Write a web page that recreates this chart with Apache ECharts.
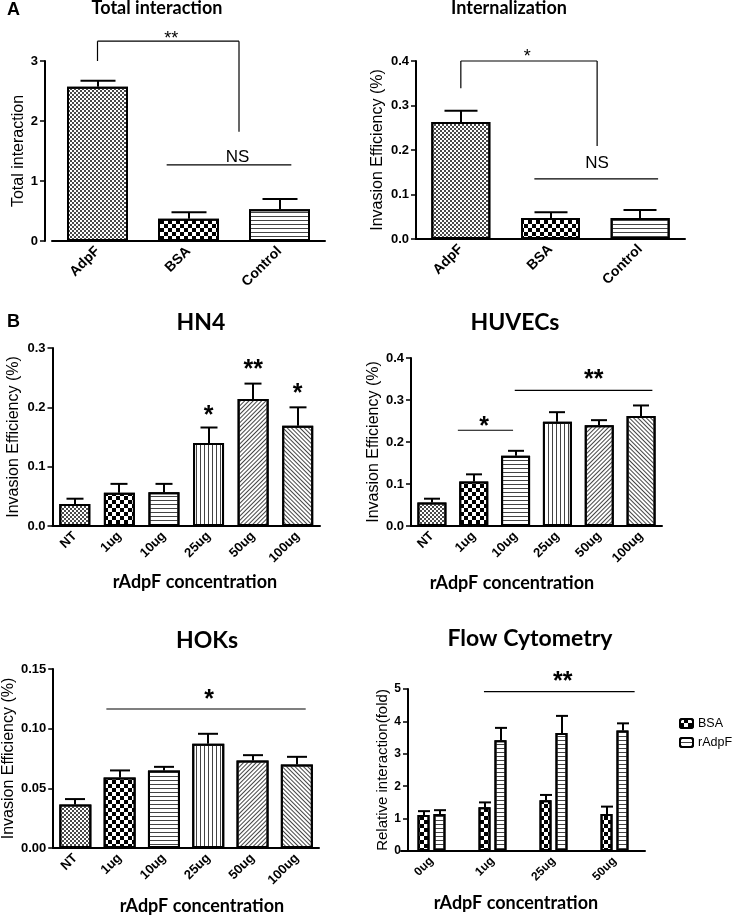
<!DOCTYPE html>
<html><head><meta charset="utf-8">
<script src="https://cdn.jsdelivr.net/npm/echarts@6/dist/echarts.min.js"></script>
<style>html,body{margin:0;padding:0;background:#fff}#c{width:733px;height:918px}</style>
</head><body><div id="c"></div>
<script>
// ---------------- DATA ----------------
const catsA = ['AdpF', 'BSA', 'Control'];
const totalVals = [2.57, 0.37, 0.53];
const totalErr = [0.10, 0.11, 0.17];
const internVals = [0.263, 0.047, 0.047];
const internErr = [0.025, 0.013, 0.018];

const concCats = ['NT', '1ug', '10ug', '25ug', '50ug', '100ug'];
const hn4Vals = [0.037, 0.056, 0.057, 0.140, 0.214, 0.169];
const hn4Err = [0.009, 0.015, 0.014, 0.026, 0.026, 0.031];
const huvecVals = [0.056, 0.106, 0.167, 0.248, 0.240, 0.262];
const huvecErr = [0.009, 0.017, 0.012, 0.023, 0.012, 0.025];
const hokVals = [0.0364, 0.059, 0.065, 0.0873, 0.0734, 0.070];
const hokErr = [0.0046, 0.006, 0.003, 0.0084, 0.0044, 0.0064];

const flowCats = ['0ug', '1ug', '25ug', '50ug'];
const flowBSA = [1.11, 1.35, 1.57, 1.14];
const flowBSAErr = [0.12, 0.15, 0.16, 0.23];
const flowRAdpF = [1.14, 3.42, 3.64, 3.72];
const flowRAdpFErr = [0.12, 0.38, 0.53, 0.22];

// significance annotations: segments [x1, y1, x2, y2] (x in category units), texts [label, x, y]
const sigSegA1 = [[0, 3.0, 0, 3.33], [0, 3.33, 1.555, 3.33], [1.555, 3.33, 1.555, 1.82], [0.76, 1.27, 2.13, 1.27]];
const sigTxtA1 = [['**', 0.81, 3.43], ['NS', 1.54, 1.39]];
const sigSegA2 = [[0, 0.339, 0, 0.4], [0, 0.4, 1.52, 0.4], [1.52, 0.4, 1.52, 0.209], [0.82, 0.135, 2.2, 0.135]];
const sigTxtA2 = [['*', 0.74, 0.416], ['NS', 1.52, 0.170]];
const sigSegHN4 = [];
const sigTxtHN4 = [['*', 3, 0.193], ['**', 4, 0.272], ['*', 5, 0.230]];
const sigSegHUV = [[0.62, 0.228, 1.94, 0.228], [1.98, 0.323, 5.27, 0.323]];
const sigTxtHUV = [['*', 1.25, 0.247], ['**', 3.87, 0.359]];
const sigSegHOK = [[0.70, 0.1165, 5.2, 0.1165]];
const sigTxtHOK = [['*', 3.02, 0.128]];
const sigSegFLOW = [[0.86, 4.92, 3.33, 4.92]];
const sigTxtFLOW = [['**', 2.15, 5.37]];

// ---------------- STYLE ----------------
const DEC = {
  fine: {symbol: 'rect', symbolSize: 1, dashArrayX: [[2, 2], [0, 2, 2, 0]], dashArrayY: [2, 0], color: '#4a4a4a'},
  checker: {symbol: 'rect', symbolSize: 1, dashArrayX: [[4, 4], [0, 4, 4, 0]], dashArrayY: [4, 0], color: '#000'},
  hline: {symbol: 'rect', symbolSize: 1, dashArrayX: [1, 0], dashArrayY: [1, 3], color: '#444'},
  vline: {symbol: 'rect', symbolSize: 1, dashArrayX: [1, 3], dashArrayY: [1, 0], color: '#444'},
  diagR: {symbol: 'rect', symbolSize: 1, dashArrayX: [1, 0], dashArrayY: [1, 2], rotation: -Math.PI / 4, color: '#444'},
  diagL: {symbol: 'rect', symbolSize: 1, dashArrayX: [1, 0], dashArrayY: [1, 2], rotation: Math.PI / 4, color: '#444'}
};
const patA = ['fine', 'checker', 'hline'];
const patB = ['fine', 'checker', 'hline', 'vline', 'diagR', 'diagL'];

const panels = [
  {grid: {left: 52, top: 61, width: 273, height: 180}, cats: catsA, max: 3, interval: 1, dec: 0,
   yName: 'Total interaction', nameGap: 11, yOffset: 7, barWidth: 61, cap: 35, xFont: 14, yFont: 13,
   series: [{name: 'Total', vals: totalVals, err: totalErr, pats: patA, shift: 0}],
   segs: sigSegA1, txts: sigTxtA1, starFont: 18, starWeight: 'normal'},
  {grid: {left: 416, top: 61, width: 269, height: 178}, cats: catsA, max: 0.4, interval: 0.1, dec: 1,
   yName: 'Invasion Efficiency (%)', nameGap: 30, yOffset: 0, barWidth: 59, cap: 33, xFont: 14, yFont: 13,
   series: [{name: 'Intern', vals: internVals, err: internErr, pats: patA, shift: 0}],
   segs: sigSegA2, txts: sigTxtA2, starFont: 18, starWeight: 'normal'},
  {grid: {left: 52.5, top: 348, width: 267.5, height: 178}, cats: concCats, max: 0.3, interval: 0.1, dec: 1,
   yName: 'Invasion Efficiency (%)', nameGap: 31, yOffset: 0, barWidth: 31, cap: 17, xFont: 13, yFont: 13,
   series: [{name: 'HN4', vals: hn4Vals, err: hn4Err, pats: patB, shift: 0}],
   segs: sigSegHN4, txts: sigTxtHN4, starFont: 25, starWeight: 'bold'},
  {grid: {left: 411, top: 358, width: 251, height: 168}, cats: concCats, max: 0.4, interval: 0.1, dec: 1,
   yName: 'Invasion Efficiency (%)', nameGap: 25, yOffset: 0, barWidth: 29, cap: 16, xFont: 13, yFont: 13,
   series: [{name: 'HUVEC', vals: huvecVals, err: huvecErr, pats: patB, shift: 0}],
   segs: sigSegHUV, txts: sigTxtHUV, starFont: 25, starWeight: 'bold'},
  {grid: {left: 52.5, top: 669, width: 266.5, height: 179}, cats: concCats, max: 0.15, interval: 0.05, dec: 2,
   yName: 'Invasion Efficiency (%)', nameGap: 34, yOffset: 0, barWidth: 32, cap: 20, xFont: 13, yFont: 13,
   series: [{name: 'HOK', vals: hokVals, err: hokErr, pats: patB, shift: 0}],
   segs: sigSegHOK, txts: sigTxtHOK, starFont: 25, starWeight: 'bold'},
  {grid: {left: 401, top: 689, width: 244, height: 162}, cats: flowCats, max: 5, interval: 1, dec: 0,
   yName: 'Relative interaction(fold)', nameGap: 16, yOffset: -7, barWidth: 12, cap: 12, xFont: 12, yFont: 12, yNameFont: 15,
   series: [{name: 'BSA', vals: flowBSA, err: flowBSAErr, pats: ['checker', 'checker', 'checker', 'checker'], shift: -8},
            {name: 'rAdpF', vals: flowRAdpF, err: flowRAdpFErr, pats: ['hline', 'hline', 'hline', 'hline'], shift: 8}],
   segs: sigSegFLOW, txts: sigTxtFLOW, starFont: 25, starWeight: 'bold'}
];

const BOLD = 'Liberation Sans';
const grids = [], xAxes = [], yAxes = [], series = [];

panels.forEach((p, gi) => {
  grids.push(Object.assign({containLabel: false}, p.grid));
  xAxes.push({
    type: 'category', gridIndex: gi, data: p.cats,
    axisLine: {lineStyle: {color: '#000', width: 2}},
    axisTick: {alignWithLabel: true, length: 6, lineStyle: {color: '#000', width: 1.5}},
    axisLabel: {rotate: 45, margin: 8, color: '#000', fontFamily: BOLD, fontWeight: 'bold', fontSize: p.xFont},
    splitLine: {show: false}
  });
  yAxes.push({
    type: 'value', gridIndex: gi, min: 0, max: p.max, interval: p.interval, offset: p.yOffset,
    name: p.yName, nameLocation: 'middle', nameRotate: 90, nameGap: p.nameGap,
    nameTextStyle: {fontFamily: 'Liberation Sans', fontSize: p.yNameFont || 16, color: '#000', padding: 0},
    axisLine: {show: true, lineStyle: {color: '#000', width: 2}},
    axisTick: {show: true, length: 5, lineStyle: {color: '#000', width: 1.5}},
    axisLabel: {color: '#000', fontFamily: BOLD, fontWeight: 'bold', fontSize: p.yFont, margin: 7,
      formatter: v => v.toFixed(p.dec)},
    splitLine: {show: false}
  });
  p.series.forEach(s => {
    series.push({
      type: 'bar', name: s.name, xAxisIndex: gi, yAxisIndex: gi, barWidth: p.barWidth, barGap: '33%',
      itemStyle: {color: '#fff', borderColor: '#000', borderWidth: 2, decal: DEC[s.pats[0]]},
      data: s.vals.map((v, i) => ({value: v, itemStyle: {color: '#fff', borderColor: '#000', borderWidth: 2, decal: DEC[s.pats[i]]}})),
      z: 2, animation: false
    });
  });
  p.series.forEach(s => {
    const cap = p.cap, shift = s.shift;
    series.push({
      type: 'custom', xAxisIndex: gi, yAxisIndex: gi, z: 3, animation: false, silent: true,
      data: s.vals.map((v, i) => [i, v, s.err[i]]),
      encode: {x: 0, y: 1},
      renderItem: (params, api) => {
        const x = api.value(0), v = api.value(1), e = api.value(2);
        const p0 = api.coord([x, v]), p1 = api.coord([x, v + e]);
        const cx = Math.round(p0[0] + shift);
        return {type: 'group', children: [
          {type: 'line', shape: {x1: cx, y1: p0[1], x2: cx, y2: p1[1]}, style: {stroke: '#000', lineWidth: 2}},
          {type: 'line', shape: {x1: cx - cap / 2, y1: p1[1], x2: cx + cap / 2, y2: p1[1]}, style: {stroke: '#000', lineWidth: 2}}
        ]};
      }
    });
  });
  // significance lines
  series.push({
    type: 'custom', xAxisIndex: gi, yAxisIndex: gi, z: 4, animation: false, silent: true,
    data: p.segs.map(s => [0, 0, s[0], s[1], s[2], s[3]]),
    encode: {x: 0, y: 1},
    renderItem: (params, api) => {
      const c0 = api.coord([0, 0]);
      const bw = api.size([1, 0])[0];
      const x1 = c0[0] + api.value(2) * bw, x2 = c0[0] + api.value(4) * bw;
      const y1 = api.coord([0, api.value(3)])[1], y2 = api.coord([0, api.value(5)])[1];
      return {type: 'line', shape: {x1: x1, y1: y1, x2: x2, y2: y2}, style: {stroke: '#000', lineWidth: 1.2}};
    }
  });
  const txts = p.txts;
  series.push({
    type: 'custom', xAxisIndex: gi, yAxisIndex: gi, z: 4, animation: false, silent: true,
    data: txts.map(t => [0, 0, t[1], t[2]]),
    encode: {x: 0, y: 1},
    renderItem: (params, api) => {
      const c0 = api.coord([0, 0]);
      const bw = api.size([1, 0])[0];
      const label = txts[params.dataIndex][0];
      const isStar = label.indexOf('*') >= 0;
      const fs = isStar ? p.starFont : 17;
      const x = c0[0] + api.value(2) * bw;
      const y = api.coord([0, api.value(3)])[1] + (isStar ? 0.2 * fs : 0);
      return {type: 'text', x: x, y: y, style: {text: label, fill: '#000', align: 'center', verticalAlign: 'middle',
        font: (isStar ? p.starWeight : 'normal') + ' ' + fs + 'px "Liberation Sans"'}};
    }
  });
});

function txt(text, x, y, size, family, weight) {
  return {type: 'text', x: x, y: y, style: {text: text, fill: '#000', align: 'center', verticalAlign: 'top',
    font: (weight || 'bold') + ' ' + size + 'px ' + family}};
}
const graphics = [
  {type: 'text', x: 7, y: 1, style: {text: 'A', fill: '#000', font: 'bold 18px "Liberation Sans"'}},
  {type: 'text', x: 7, y: 313, style: {text: 'B', fill: '#000', font: 'bold 18px "Liberation Sans"'}},
  txt('Total interaction', 157, -1, 18, 'Lato'),
  txt('Internalization', 509, -1, 18, 'Lato'),
  txt('HN4', 201, 311, 23, 'Lato'),
  txt('HUVECs', 515, 311, 23, 'Lato'),
  txt('HOKs', 207, 629, 23, 'Lato'),
  txt('Flow Cytometry', 530, 627, 23, 'Lato'),
  txt('rAdpF concentration', 195, 573, 18, 'Lato'),
  txt('rAdpF concentration', 512, 574, 18, 'Lato'),
  txt('rAdpF concentration', 202, 897, 18, 'Lato'),
  txt('rAdpF concentration', 516, 894, 18, 'Lato')
];

const chart = echarts.init(document.getElementById('c'), null, {renderer: 'canvas'});
chart.setOption({
  animation: false,
  backgroundColor: '#fff',
  grid: grids, xAxis: xAxes, yAxis: yAxes, series: series,
  legend: {data: ['BSA', 'rAdpF'], orient: 'vertical', left: 674, top: 712, itemWidth: 13, itemHeight: 9, itemGap: 6,
    icon: 'roundRect', textStyle: {fontFamily: 'Liberation Sans', fontSize: 12.5, color: '#000'}, selectedMode: false},
  graphic: graphics
});
</script></body></html>
